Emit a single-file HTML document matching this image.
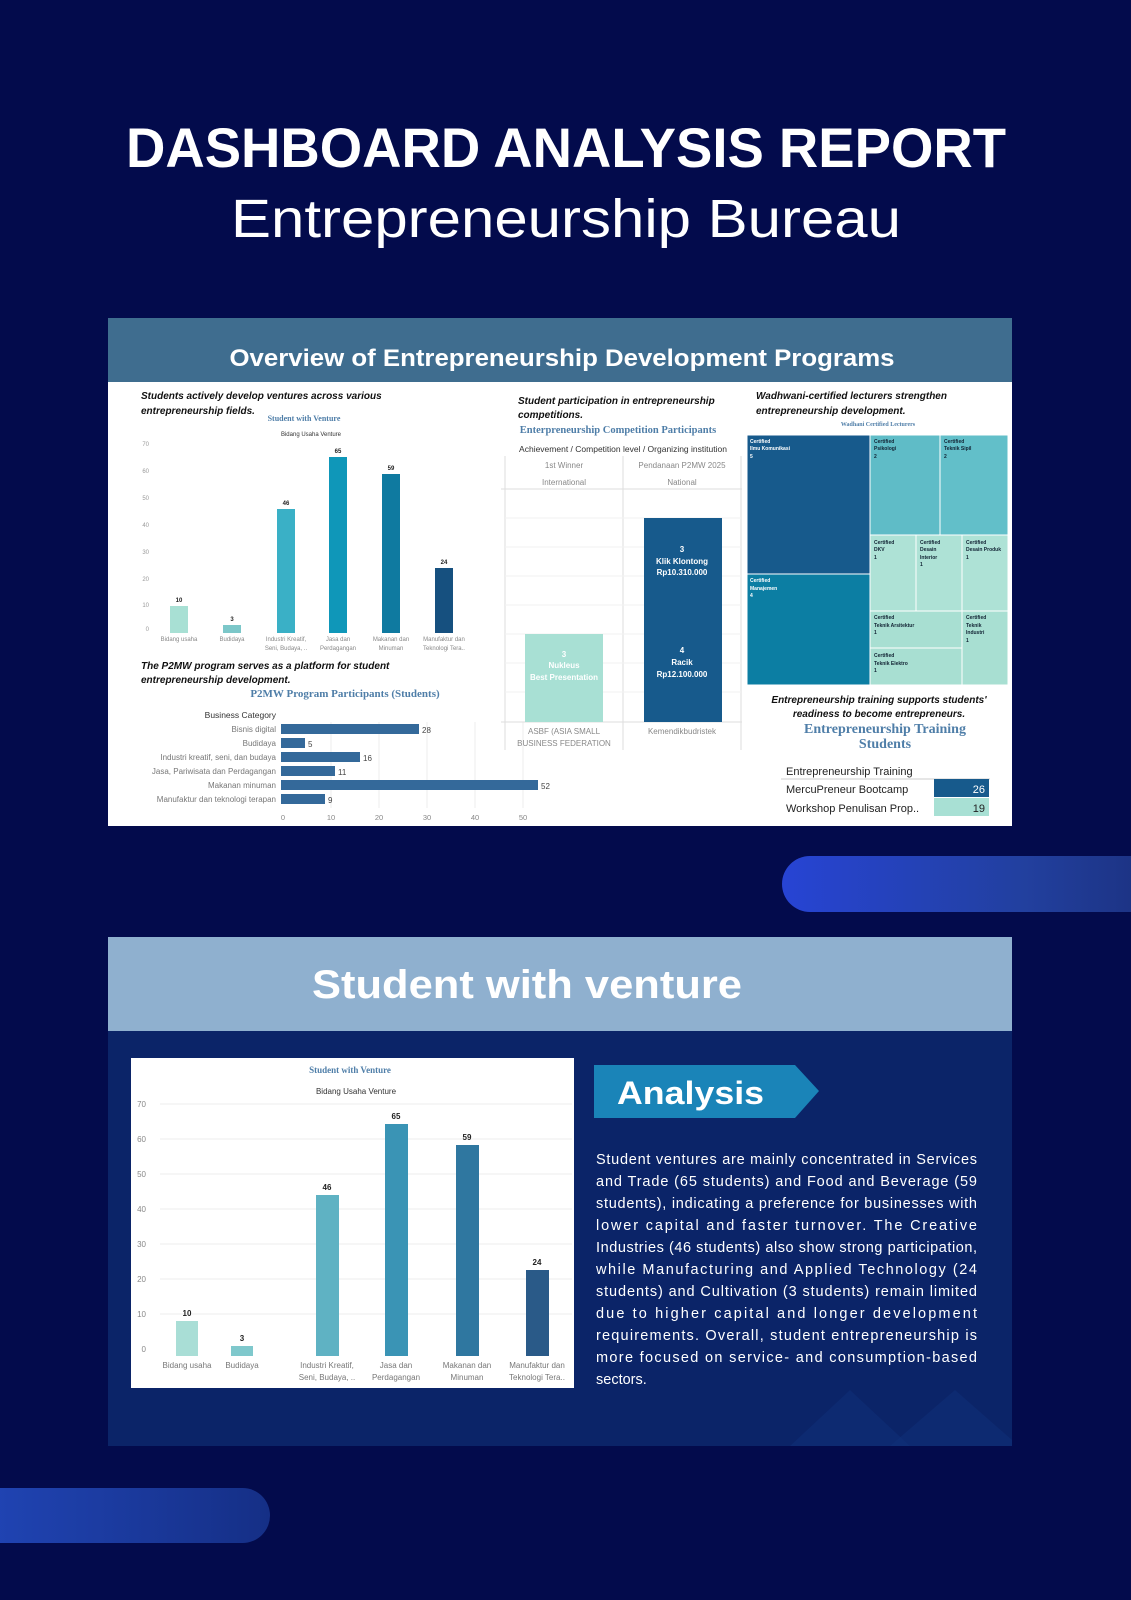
<!DOCTYPE html>
<html><head><meta charset="utf-8"><style>
html,body{margin:0;padding:0;background:#030b4c;}
svg{display:block}
text{font-family:"Liberation Sans",sans-serif}
.ser{font-family:"Liberation Serif",serif;font-weight:bold}
</style></head><body>
<svg width="1131" height="1600" viewBox="0 0 1131 1600" xmlns="http://www.w3.org/2000/svg">
<defs>
<linearGradient id="pill1" x1="0" x2="1"><stop offset="0" stop-color="#2744d4"/><stop offset="0.6" stop-color="#22409f"/><stop offset="1" stop-color="#1a2e7a"/></linearGradient>
<linearGradient id="pill2" x1="0" x2="1"><stop offset="0" stop-color="#2146b8"/><stop offset="1" stop-color="#152f86"/></linearGradient>
</defs>
<rect width="1131" height="1600" fill="#030b4c"/>
<text x="566" y="167" text-anchor="middle" font-size="56" font-weight="bold" fill="#fff" textLength="880" lengthAdjust="spacingAndGlyphs">DASHBOARD ANALYSIS REPORT</text>
<text x="566" y="237" text-anchor="middle" font-size="54" fill="#fff" textLength="670" lengthAdjust="spacingAndGlyphs">Entrepreneurship Bureau</text>

<!-- Panel 1 -->
<rect x="108" y="318" width="904" height="508" fill="#fff"/>
<rect x="108" y="318" width="904" height="64" fill="#3f6d8f"/>
<text x="562" y="366" text-anchor="middle" font-size="24" font-weight="bold" fill="#fff" textLength="665" lengthAdjust="spacingAndGlyphs">Overview of Entrepreneurship Development Programs</text>

<!-- chart 1 -->
<g font-style="italic" font-weight="bold" font-size="10" fill="#111">
<text x="141" y="399">Students actively develop ventures across various</text>
<text x="141" y="414">entrepreneurship fields.</text>
<text x="518" y="404">Student participation in entrepreneurship</text>
<text x="518" y="418">competitions.</text>
<text x="756" y="399">Wadhwani-certified lecturers strengthen</text>
<text x="756" y="414">entrepreneurship development.</text>
<text x="141" y="669">The P2MW program serves as a platform for student</text>
<text x="141" y="683">entrepreneurship development.</text>
<text x="879" y="703" text-anchor="middle">Entrepreneurship training supports students'</text>
<text x="879" y="717" text-anchor="middle">readiness to become entrepreneurs.</text>
</g>
<text x="304" y="421" text-anchor="middle" class="ser" font-size="8" fill="#4f7ea8">Student with Venture</text>
<text x="311" y="436" text-anchor="middle" font-size="6" fill="#333">Bidang Usaha Venture</text>
<g font-size="6" fill="#999" text-anchor="end">
<text x="149" y="446">70</text><text x="149" y="473">60</text><text x="149" y="500">50</text><text x="149" y="527">40</text><text x="149" y="554">30</text><text x="149" y="581">20</text><text x="149" y="607">10</text><text x="149" y="631">0</text>
</g>
<rect x="170" y="606" width="18" height="27" fill="#a8e0d4"/>
<rect x="223" y="625" width="18" height="8" fill="#7cc7c9"/>
<rect x="277" y="509" width="18" height="124" fill="#3ab0c6"/>
<rect x="329" y="457" width="18" height="176" fill="#0f97b9"/>
<rect x="382" y="474" width="18" height="159" fill="#0f7aa0"/>
<rect x="435" y="568" width="18" height="65" fill="#16507f"/>
<g font-size="6" font-weight="bold" fill="#222" text-anchor="middle">
<text x="179" y="602">10</text><text x="232" y="621">3</text><text x="286" y="505">46</text><text x="338" y="453">65</text><text x="391" y="470">59</text><text x="444" y="564">24</text>
</g>
<g font-size="6" fill="#888" text-anchor="middle">
<text x="179" y="641">Bidang usaha</text><text x="232" y="641">Budidaya</text>
<text x="286" y="641">Industri Kreatif,</text><text x="286" y="650">Seni, Budaya, ..</text>
<text x="338" y="641">Jasa dan</text><text x="338" y="650">Perdagangan</text>
<text x="391" y="641">Makanan dan</text><text x="391" y="650">Minuman</text>
<text x="444" y="641">Manufaktur dan</text><text x="444" y="650">Teknologi Tera..</text>
</g>

<!-- P2MW -->
<text x="345" y="697" text-anchor="middle" class="ser" font-size="11" fill="#4f7ea8">P2MW Program Participants (Students)</text>
<text x="276" y="718" text-anchor="end" font-size="8.5" fill="#333">Business Category</text>
<g stroke="#eee" stroke-width="1"><line x1="331" y1="722" x2="331" y2="808"/><line x1="379" y1="722" x2="379" y2="808"/><line x1="427" y1="722" x2="427" y2="808"/><line x1="475" y1="722" x2="475" y2="808"/><line x1="523" y1="722" x2="523" y2="808"/></g>
<g font-size="8" fill="#777" text-anchor="end">
<text x="276" y="732">Bisnis digital</text><text x="276" y="746">Budidaya</text><text x="276" y="760">Industri kreatif, seni, dan budaya</text><text x="276" y="774">Jasa, Pariwisata dan Perdagangan</text><text x="276" y="788">Makanan minuman</text><text x="276" y="802">Manufaktur dan teknologi terapan</text>
</g>
<g fill="#34699a">
<rect x="281" y="724" width="138" height="10"/><rect x="281" y="738" width="24" height="10"/><rect x="281" y="752" width="79" height="10"/><rect x="281" y="766" width="54" height="10"/><rect x="281" y="780" width="257" height="10"/><rect x="281" y="794" width="44" height="10"/>
</g>
<g font-size="8" fill="#444">
<text x="422" y="733">28</text><text x="308" y="747">5</text><text x="363" y="761">16</text><text x="338" y="775">11</text><text x="541" y="789">52</text><text x="328" y="803">9</text>
</g>
<g font-size="7.5" fill="#888" text-anchor="middle">
<text x="283" y="820">0</text><text x="331" y="820">10</text><text x="379" y="820">20</text><text x="427" y="820">30</text><text x="475" y="820">40</text><text x="523" y="820">50</text>
</g>

<!-- competition -->
<text x="618" y="433" text-anchor="middle" class="ser" font-size="10.5" fill="#4f7ea8">Enterpreneurship Competition Participants</text>
<text x="623" y="452" text-anchor="middle" font-size="8.5" fill="#333">Achievement / Competition level / Organizing institution</text>
<g stroke="#ddd" stroke-width="1" fill="none">
<line x1="505" y1="456" x2="505" y2="750"/><line x1="623" y1="456" x2="623" y2="750"/><line x1="741" y1="456" x2="741" y2="750"/>
<line x1="501" y1="489" x2="742" y2="489"/><line x1="501" y1="722" x2="742" y2="722"/>
<line x1="505" y1="518" x2="741" y2="518" stroke="#f1f1f1"/><line x1="505" y1="547" x2="741" y2="547" stroke="#f1f1f1"/><line x1="505" y1="576" x2="741" y2="576" stroke="#f1f1f1"/><line x1="505" y1="605" x2="741" y2="605" stroke="#f1f1f1"/><line x1="505" y1="634" x2="741" y2="634" stroke="#f1f1f1"/><line x1="505" y1="663" x2="741" y2="663" stroke="#f1f1f1"/><line x1="505" y1="692" x2="741" y2="692" stroke="#f1f1f1"/>
</g>
<g font-size="8" fill="#888" text-anchor="middle">
<text x="564" y="468">1st Winner</text><text x="564" y="485">International</text>
<text x="682" y="468">Pendanaan P2MW 2025</text><text x="682" y="485">National</text>
<text x="564" y="734">ASBF (ASIA SMALL</text><text x="564" y="746">BUSINESS FEDERATION</text>
<text x="682" y="734">Kemendikbudristek</text>
</g>
<rect x="525" y="634" width="78" height="88" fill="#a8e0d4"/>
<rect x="644" y="518" width="78" height="204" fill="#175a8c"/>
<g font-size="8" font-weight="bold" fill="#fff" text-anchor="middle">
<text x="564" y="657">3</text><text x="564" y="668">Nukleus</text><text x="564" y="680">Best Presentation</text>
<text x="682" y="552">3</text><text x="682" y="564">Klik Klontong</text><text x="682" y="575">Rp10.310.000</text>
<text x="682" y="653">4</text><text x="682" y="665">Racik</text><text x="682" y="677">Rp12.100.000</text>
</g>

<!-- treemap -->
<text x="878" y="426" text-anchor="middle" class="ser" font-size="6" fill="#4f7ea8">Wadhani Certified Lecturers</text>
<g stroke="#fff" stroke-width="1">
<rect x="747" y="435" width="123" height="139" fill="#175a8c"/>
<rect x="747" y="574" width="123" height="111" fill="#0c7ea3"/>
<rect x="870" y="435" width="70" height="100" fill="#5fbcc7"/>
<rect x="940" y="435" width="68" height="100" fill="#62bfc9"/>
<rect x="870" y="535" width="46" height="76" fill="#aee2d6"/>
<rect x="916" y="535" width="46" height="76" fill="#aee2d6"/>
<rect x="962" y="535" width="46" height="76" fill="#aee2d6"/>
<rect x="870" y="611" width="92" height="37" fill="#a8dfd2"/>
<rect x="870" y="648" width="92" height="37" fill="#a8dfd2"/>
<rect x="962" y="611" width="46" height="74" fill="#a8dfd2"/>
</g>
<g font-size="5" font-weight="bold">
<g fill="#fff"><text x="750" y="443">Certified</text><text x="750" y="450">Ilmu Komunikasi</text><text x="750" y="458">5</text>
<text x="750" y="582">Certified</text><text x="750" y="590">Manajemen</text><text x="750" y="597">4</text></g>
<g fill="#123"><text x="874" y="443">Certified</text><text x="874" y="450">Psikologi</text><text x="874" y="458">2</text>
<text x="944" y="443">Certified</text><text x="944" y="450">Teknik Sipil</text><text x="944" y="458">2</text>
<text x="874" y="544">Certified</text><text x="874" y="551">DKV</text><text x="874" y="559">1</text>
<text x="920" y="544">Certified</text><text x="920" y="551">Desain</text><text x="920" y="559">Interior</text><text x="920" y="566">1</text>
<text x="966" y="544">Certified</text><text x="966" y="551">Desain Produk</text><text x="966" y="559">1</text>
<text x="874" y="619">Certified</text><text x="874" y="627">Teknik Arsitektur</text><text x="874" y="634">1</text>
<text x="874" y="657">Certified</text><text x="874" y="665">Teknik Elektro</text><text x="874" y="672">1</text>
<text x="966" y="619">Certified</text><text x="966" y="627">Teknik</text><text x="966" y="634">Industri</text><text x="966" y="642">1</text></g>
</g>

<!-- training -->
<text x="885" y="733" text-anchor="middle" class="ser" font-size="14" fill="#4f7ea8">Entrepreneurship Training</text>
<text x="885" y="748" text-anchor="middle" class="ser" font-size="14" fill="#4f7ea8">Students</text>
<text x="786" y="775" font-size="11" fill="#222">Entrepreneurship Training</text>
<line x1="781" y1="779" x2="990" y2="779" stroke="#ccc"/>
<text x="786" y="793" font-size="11" fill="#222">MercuPreneur Bootcamp</text>
<text x="786" y="812" font-size="11" fill="#222">Workshop Penulisan Prop..</text>
<rect x="934" y="779" width="55" height="18" fill="#175a8c"/>
<rect x="934" y="798" width="55" height="18" fill="#a8e0d4"/>
<text x="985" y="793" text-anchor="end" font-size="11" fill="#fff">26</text>
<text x="985" y="812" text-anchor="end" font-size="11" fill="#222">19</text>

<!-- pill right -->
<rect x="782" y="856" width="400" height="56" rx="28" fill="url(#pill1)"/>

<!-- Panel 2 -->
<rect x="108" y="937" width="904" height="509" fill="#0b2468"/>
<polygon points="790,1446 850,1390 910,1446" fill="#10307a" opacity="0.5"/>
<polygon points="890,1446 955,1390 1012,1440 1012,1446" fill="#10307a" opacity="0.5"/>
<rect x="108" y="937" width="904" height="94" fill="#8fb0cf"/>
<text x="527" y="998" text-anchor="middle" font-size="40" font-weight="bold" fill="#fff" textLength="430" lengthAdjust="spacingAndGlyphs">Student with venture</text>

<rect x="131" y="1058" width="443" height="330" fill="#fff"/>
<text x="350" y="1073" text-anchor="middle" class="ser" font-size="9" fill="#4f7ea8">Student with Venture</text>
<text x="356" y="1094" text-anchor="middle" font-size="8" fill="#333">Bidang Usaha Venture</text>
<g stroke="#eee"><line x1="160" y1="1104" x2="572" y2="1104"/><line x1="160" y1="1139" x2="572" y2="1139"/><line x1="160" y1="1174" x2="572" y2="1174"/><line x1="160" y1="1209" x2="572" y2="1209"/><line x1="160" y1="1244" x2="572" y2="1244"/><line x1="160" y1="1279" x2="572" y2="1279"/><line x1="160" y1="1314" x2="572" y2="1314"/></g>
<g font-size="8" fill="#888" text-anchor="end">
<text x="146" y="1107">70</text><text x="146" y="1142">60</text><text x="146" y="1177">50</text><text x="146" y="1212">40</text><text x="146" y="1247">30</text><text x="146" y="1282">20</text><text x="146" y="1317">10</text><text x="146" y="1352">0</text>
</g>
<rect x="176" y="1321" width="22" height="35" fill="#a9ded6"/>
<rect x="231" y="1346" width="22" height="10" fill="#7fc8cc"/>
<rect x="316" y="1195" width="23" height="161" fill="#5fb2c3"/>
<rect x="385" y="1124" width="23" height="232" fill="#3a94b5"/>
<rect x="456" y="1145" width="23" height="211" fill="#2f77a0"/>
<rect x="526" y="1270" width="23" height="86" fill="#2a5a88"/>
<g font-size="8" font-weight="bold" fill="#222" text-anchor="middle">
<text x="187" y="1316">10</text><text x="242" y="1341">3</text><text x="327" y="1190">46</text><text x="396" y="1119">65</text><text x="467" y="1140">59</text><text x="537" y="1265">24</text>
</g>
<g font-size="8" fill="#777" text-anchor="middle">
<text x="187" y="1368">Bidang usaha</text><text x="242" y="1368">Budidaya</text>
<text x="327" y="1368">Industri Kreatif,</text><text x="327" y="1380">Seni, Budaya, ..</text>
<text x="396" y="1368">Jasa dan</text><text x="396" y="1380">Perdagangan</text>
<text x="467" y="1368">Makanan dan</text><text x="467" y="1380">Minuman</text>
<text x="537" y="1368">Manufaktur dan</text><text x="537" y="1380">Teknologi Tera..</text>
</g>

<polygon points="594,1065 795,1065 819,1091 795,1118 594,1118" fill="#1a84b8"/>
<text x="617" y="1104" font-size="32" font-weight="bold" fill="#fff" textLength="147" lengthAdjust="spacingAndGlyphs">Analysis</text>

<g font-size="14.5" fill="#fff">
<text x="596" y="1164" textLength="381" lengthAdjust="spacing">Student ventures are mainly concentrated in Services</text>
<text x="596" y="1186" textLength="381" lengthAdjust="spacing">and Trade (65 students) and Food and Beverage (59</text>
<text x="596" y="1208" textLength="381" lengthAdjust="spacing">students), indicating a preference for businesses with</text>
<text x="596" y="1230" textLength="381" lengthAdjust="spacing">lower capital and faster turnover. The Creative</text>
<text x="596" y="1252" textLength="381" lengthAdjust="spacing">Industries (46 students) also show strong participation,</text>
<text x="596" y="1274" textLength="381" lengthAdjust="spacing">while Manufacturing and Applied Technology (24</text>
<text x="596" y="1296" textLength="381" lengthAdjust="spacing">students) and Cultivation (3 students) remain limited</text>
<text x="596" y="1318" textLength="381" lengthAdjust="spacing">due to higher capital and longer development</text>
<text x="596" y="1340" textLength="381" lengthAdjust="spacing">requirements. Overall, student entrepreneurship is</text>
<text x="596" y="1362" textLength="381" lengthAdjust="spacing">more focused on service- and consumption-based</text>
<text x="596" y="1384">sectors.</text>
</g>

<rect x="-40" y="1488" width="310" height="55" rx="27.5" fill="url(#pill2)"/>
</svg>
</body></html>
